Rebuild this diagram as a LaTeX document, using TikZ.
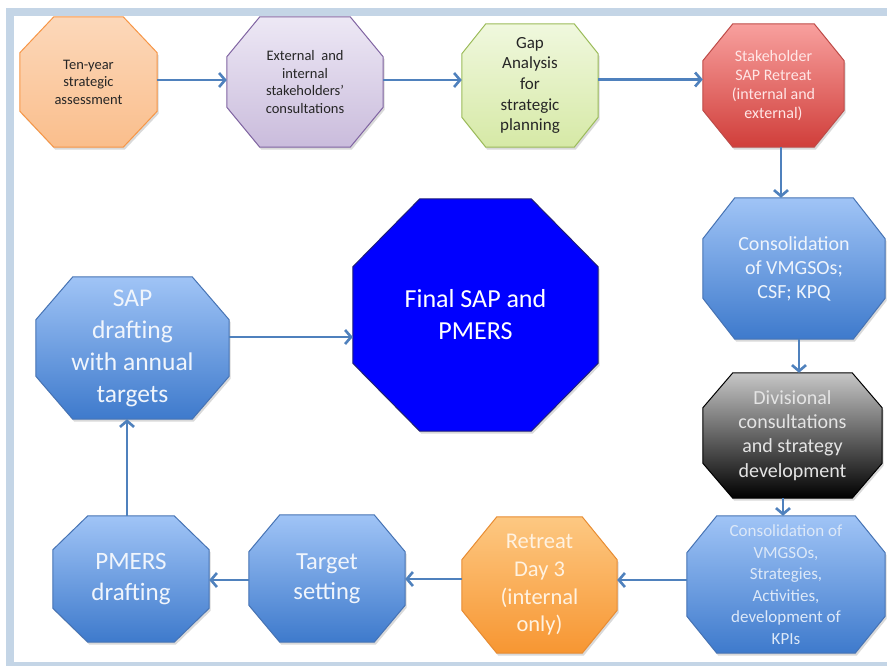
\documentclass[tikz,border=0pt]{standalone}
\usepackage{fontspec}
\setmainfont{Carlito}
\usetikzlibrary{arrows.meta}
\pgfdeclarelayer{bg}
\pgfsetlayers{bg,main}
\definecolor{framec}{RGB}{196,213,230}
\definecolor{arrowc}{RGB}{79,129,189}
\definecolor{orTop}{RGB}{252,216,186}
\definecolor{orBot}{RGB}{250,190,140}
\definecolor{orLine}{RGB}{247,150,70}
\definecolor{puTop}{RGB}{237,232,245}
\definecolor{puBot}{RGB}{202,188,220}
\definecolor{puLine}{RGB}{128,100,162}
\definecolor{grTop}{RGB}{240,248,222}
\definecolor{grBot}{RGB}{214,233,166}
\definecolor{grLine}{RGB}{155,187,89}
\definecolor{reTop}{RGB}{248,160,158}
\definecolor{reBot}{RGB}{208,62,58}
\definecolor{reLine}{RGB}{190,75,72}
\definecolor{blTop}{RGB}{160,196,246}
\definecolor{blBot}{RGB}{62,122,204}
\definecolor{blLine}{RGB}{70,115,180}
\definecolor{rtTop}{RGB}{253,200,130}
\definecolor{rtBot}{RGB}{247,150,50}
\definecolor{rtLine}{RGB}{232,140,50}
\definecolor{fiLine}{RGB}{30,30,120}
\tikzset{
  box/.style={rectangle, inner sep=0pt, align=center},
  arr/.style={draw=arrowc, line width=2.6pt, -{Straight Barb[length=6pt,width=14pt]}},
  shorange/.style={top color=orTop, bottom color=orBot, draw=orLine, line width=1pt},
  shpurple/.style={top color=puTop, bottom color=puBot, draw=puLine, line width=1pt},
  shgreen/.style={top color=grTop, bottom color=grBot, draw=grLine, line width=1pt},
  shred/.style={top color=reTop, bottom color=reBot, draw=reLine, line width=1pt},
  shblue/.style={top color=blTop, bottom color=blBot, draw=blLine, line width=1pt},
  shblack/.style={top color=black!22, bottom color=black, draw=black, line width=1pt},
  shretreat/.style={top color=rtTop, bottom color=rtBot, draw=rtLine, line width=1pt},
  shfinal/.style={fill=blue, draw=fiLine, line width=1pt},
}
\newcommand{\octo}[4]{%
  \begin{pgfonlayer}{bg}
  \fill[black, opacity=0.15, transform canvas={shift={(1.5pt,-2.5pt)}}]
    ([xshift=#3]#2.north west) -- ([xshift=-#3]#2.north east) -- ([yshift=-#4]#2.north east) -- ([yshift=#4]#2.south east) -- ([xshift=-#3]#2.south east) -- ([xshift=#3]#2.south west) -- ([yshift=#4]#2.south west) -- ([yshift=-#4]#2.north west) -- cycle;
  \path[#1]
    ([xshift=#3]#2.north west) -- ([xshift=-#3]#2.north east) -- ([yshift=-#4]#2.north east) -- ([yshift=#4]#2.south east) -- ([xshift=-#3]#2.south east) -- ([xshift=#3]#2.south west) -- ([yshift=#4]#2.south west) -- ([yshift=-#4]#2.north west) -- cycle;
  \end{pgfonlayer}}
\begin{document}
\begin{tikzpicture}[x=1pt,y=-1pt]
\useasboundingbox (0,0) rectangle (887,665);
\clip (0,0) rectangle (887,665);
\begin{pgfonlayer}{bg}
\fill[white] (0,0) rectangle (887,665);
\draw[framec, line width=8pt] (10,12) rectangle (900,666);
\end{pgfonlayer}

% nodes
\node[box, minimum width=137pt, minimum height=130pt, text=black!85, font=\fontsize{14.5}{17.5}\selectfont] (ten) at (88.5,82) {Ten-year\\strategic\\assessment};
\node[box, minimum width=156pt, minimum height=130pt, text=black!85, font=\fontsize{14.5}{17.7}\selectfont] (ext) at (305,82) {External\ \ and\\internal\\stakeholders’\\consultations};
\node[box, minimum width=136pt, minimum height=123pt, text=black!85, font=\fontsize{17}{20.7}\selectfont] (gap) at (530,85.5) {Gap\\Analysis\\for\\strategic\\planning};
\node[box, minimum width=141pt, minimum height=123pt, text={rgb,255:red,255;green,230;blue,230}, font=\fontsize{16}{19}\selectfont] (stake) at (773.5,85.5) {Stakeholder\\SAP Retreat\\(internal and\\external)};
\node[box, minimum width=182pt, minimum height=141pt, text={rgb,255:red,238;green,244;blue,252}, font=\fontsize{20}{24}\selectfont] (cons1) at (794,268.5) {Consolidation\\of VMGSOs;\\CSF; KPQ};
\node[box, minimum width=179pt, minimum height=125pt, text={rgb,255:red,228;green,228;blue,228}, font=\fontsize{20}{24.3}\selectfont] (div) at (792.5,435.5) {Divisional\\consultations\\and strategy\\development};
\node[box, minimum width=198pt, minimum height=137pt, text={rgb,255:red,220;green,232;blue,248}, font=\fontsize{17}{21.5}\selectfont] (cons2) at (786,584.5) {Consolidation of\\VMGSOs,\\Strategies,\\Activities,\\development of\\KPIs};
\node[box, minimum width=155pt, minimum height=136pt, text={rgb,255:red,255;green,242;blue,225}, font=\fontsize{22.5}{27.7}\selectfont] (retreat) at (539.5,585) {Retreat\\Day 3\\(internal\\only)};
\node[box, minimum width=156pt, minimum height=127pt, text={rgb,255:red,240;green,245;blue,252}, font=\fontsize{24.5}{30}\selectfont] (target) at (327,578.5) {Target\\setting};
\node[box, minimum width=156pt, minimum height=126pt, text={rgb,255:red,240;green,245;blue,252}, font=\fontsize{25}{31}\selectfont] (pmers) at (131,579) {PMERS\\drafting};
\node[box, minimum width=193pt, minimum height=142pt, text={rgb,255:red,240;green,245;blue,252}, font=\fontsize{25.5}{32}\selectfont] (sap) at (132.5,348) {SAP\\drafting\\with annual\\targets};
\node[box, minimum width=245pt, minimum height=232pt, text=white, font=\fontsize{26}{32}\selectfont] (final) at (475.5,315) {Final SAP and\\PMERS};

% octagons
\octo{shorange}{ten}{34pt}{36pt}
\octo{shpurple}{ext}{33pt}{40pt}
\octo{shgreen}{gap}{24pt}{30pt}
\octo{shred}{stake}{30pt}{37pt}
\octo{shblue}{cons1}{32pt}{41pt}
\octo{shblack}{div}{30pt}{35pt}
\octo{shblue}{cons2}{30pt}{37pt}
\octo{shretreat}{retreat}{35pt}{43pt}
\octo{shblue}{target}{31pt}{37pt}
\octo{shblue}{pmers}{35pt}{34pt}
\octo{shblue}{sap}{37pt}{43pt}
\octo{shfinal}{final}{67pt}{68pt}

% connectors
\draw[arr] ([yshift=2pt]ten.east) -- ([yshift=2pt]ten.east -| ext.west);
\draw[arr] ([yshift=2pt]ext.east) -- ([yshift=2pt]ext.east -| gap.west);
\draw[arr] ([yshift=6pt]gap.east) -- ([yshift=6pt]gap.east -| stake.west);
\draw[arr] ([xshift=7.5pt]stake.south) -- ([xshift=7.5pt]stake.south |- cons1.north);
\draw[arr] ([xshift=5pt]cons1.south) -- ([xshift=5pt]cons1.south |- div.north);
\draw[arr] ([xshift=-9.5pt]div.south) -- ([xshift=-9.5pt]div.south |- cons2.north);
\draw[arr] ([yshift=4.5pt]cons2.west) -- ([yshift=4.5pt]cons2.west -| retreat.east);
\draw[arr] ([yshift=6pt]retreat.west) -- ([yshift=6pt]retreat.west -| target.east);
\draw[arr] ([yshift=-1.5pt]target.west) -- ([yshift=-1.5pt]target.west -| pmers.east);
\draw[arr] ([xshift=-4pt]pmers.north) -- ([xshift=-4pt]pmers.north |- sap.south);
\draw[arr] ([yshift=11pt]sap.east) -- ([yshift=11pt]sap.east -| final.west);
\end{tikzpicture}
\end{document}
